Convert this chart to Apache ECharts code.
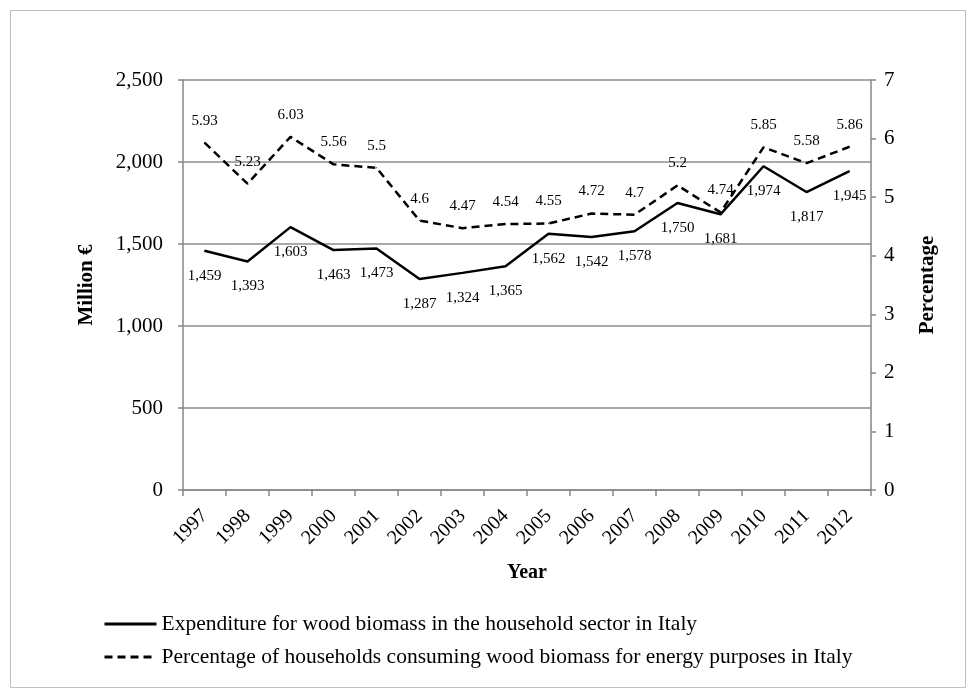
<!DOCTYPE html>
<html><head><meta charset="utf-8">
<script src="https://cdn.jsdelivr.net/npm/echarts@6/dist/echarts.min.js"></script>
<style>html,body{margin:0;padding:0;background:#fff}#c{width:976px;height:698px}</style>
</head><body><div id="c"></div>
<script>
const years = ['1997','1998','1999','2000','2001','2002','2003','2004','2005','2006','2007','2008','2009','2010','2011','2012'];
const expenditure = [1459,1393,1603,1463,1473,1287,1324,1365,1562,1542,1578,1750,1681,1974,1817,1945];
const percentage = [5.93,5.23,6.03,5.56,5.5,4.6,4.47,4.54,4.55,4.72,4.7,5.2,4.74,5.85,5.58,5.86];
const leftTicks = [0,500,1000,1500,2000,2500];
const rightTicks = [0,1,2,3,4,5,6,7];
const seriesNames = ['Expenditure for wood biomass in the household sector in Italy','Percentage of households consuming wood biomass for energy purposes in Italy'];

const F = '"Liberation Serif","Times New Roman",serif';
const axisGray = '#868686';
const chart = echarts.init(document.getElementById('c'));
chart.setOption({
  animation:false,
  textStyle:{fontFamily:F,color:'#000'},
  graphic:[{type:'rect',shape:{x:10.5,y:10.5,width:955,height:677},style:{fill:'none',stroke:'#bfbfbf',lineWidth:1},silent:true,z:-1}],
  grid:{left:183,right:105,top:80,bottom:208,containLabel:false},
  legend:{
    orient:'vertical',left:98,top:608,itemWidth:52,itemHeight:14,itemGap:11,
    textStyle:{fontFamily:F,fontSize:21.5,color:'#000'},
    itemStyle:{opacity:0},
    lineStyle:{inherit:true,width:3},
    data:seriesNames
  },
  xAxis:{
    type:'category',data:years,boundaryGap:true,
    name:'Year',nameLocation:'middle',nameGap:73,nameMoveOverlap:false,
    nameTextStyle:{fontFamily:F,fontSize:20,fontWeight:'bold',color:'#000'},
    axisLine:{lineStyle:{color:axisGray,width:1.5}},
    axisTick:{show:true,length:6,lineStyle:{color:axisGray,width:1.5},alignWithLabel:false},
    axisLabel:{rotate:45,fontFamily:F,fontSize:20,color:'#000',margin:23,interval:0}
  },
  yAxis:[{
    type:'value',min:0,max:2500,interval:500,
    name:'Million €',nameLocation:'middle',nameGap:86,nameRotate:90,nameMoveOverlap:false,
    nameTextStyle:{fontFamily:F,fontSize:21,fontWeight:'bold',color:'#000'},
    axisLine:{show:true,lineStyle:{color:axisGray,width:1.5}},
    axisTick:{show:true,length:5,lineStyle:{color:axisGray,width:1.5}},
    splitLine:{show:true,lineStyle:{color:'#8c8c8c',width:1.5}},
    axisLabel:{fontFamily:F,fontSize:21,color:'#000',margin:20,formatter:v=>v.toLocaleString('en-US')}
  },{
    type:'value',min:0,max:7,interval:1,position:'right',
    name:'Percentage',nameLocation:'middle',nameGap:46,nameRotate:90,nameMoveOverlap:false,
    nameTextStyle:{fontFamily:F,fontSize:21,fontWeight:'bold',color:'#000'},
    axisLine:{show:true,lineStyle:{color:axisGray,width:1.5}},
    axisTick:{show:true,length:5,lineStyle:{color:axisGray,width:1.5}},
    splitLine:{show:false},
    axisLabel:{fontFamily:F,fontSize:21,color:'#000',margin:13}
  }],
  series:[{
    name:seriesNames[0],type:'line',yAxisIndex:0,data:expenditure,
    symbol:'circle',symbolSize:1,showSymbol:true,
    lineStyle:{color:'#000',width:2.5},itemStyle:{color:'#000'},
    label:{show:true,position:'bottom',distance:17,fontFamily:F,fontSize:15,color:'#000',formatter:p=>p.value.toLocaleString('en-US')}
  },{
    name:seriesNames[1],type:'line',yAxisIndex:1,data:percentage,
    symbol:'circle',symbolSize:1,showSymbol:true,
    lineStyle:{color:'#000',width:2.5,type:[8,5]},itemStyle:{color:'#000'},
    label:{show:true,position:'top',distance:14,fontFamily:F,fontSize:15,color:'#000'}
  }]
});
</script></body></html>
